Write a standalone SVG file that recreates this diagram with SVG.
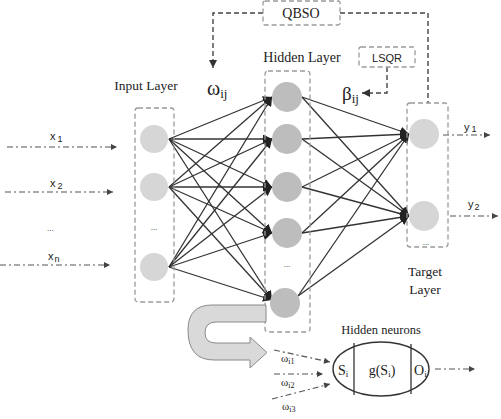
<svg xmlns="http://www.w3.org/2000/svg" width="501" height="419" viewBox="0 0 501 419">
<style>
.serif{font-family:"Liberation Serif","Times New Roman",serif;fill:#222}
.sans{font-family:"Liberation Sans",Arial,sans-serif;fill:#222}
.dbox{fill:none;stroke:#9a9a9a;stroke-width:1.3;stroke-dasharray:5,3}
.inode{fill:#d6d6d6}
.hnode{fill:#bdbdbd}
.conn{stroke:#333;stroke-width:1.3;fill:none;marker-end:url(#ah)}
.dd{stroke:#555;stroke-width:1.2;fill:none;stroke-dasharray:6,3,2,3;marker-end:url(#sa)}
.fb{stroke:#444;stroke-width:1.4;fill:none;stroke-dasharray:5,3;marker-end:url(#fa)}
</style>
<defs>
<marker id="ah" viewBox="0 0 10 10" refX="10" refY="5" markerWidth="9" markerHeight="9" markerUnits="userSpaceOnUse" orient="auto"><path d="M0,0 L10,5 L0,10 Z" fill="#222"/></marker>
<marker id="sa" viewBox="0 0 10 10" refX="10" refY="5" markerWidth="7" markerHeight="6" markerUnits="userSpaceOnUse" orient="auto"><path d="M0,0 L10,5 L0,10 Z" fill="#444"/></marker>
<marker id="fa" viewBox="0 0 10 10" refX="10" refY="5" markerWidth="8" markerHeight="8" markerUnits="userSpaceOnUse" orient="auto"><path d="M0,0 L10,5 L0,10 Z" fill="#333"/></marker>
</defs>

<g id="connectors">
<!-- input to hidden -->
<line class="conn" x1="169" y1="139" x2="272" y2="97"/>
<line class="conn" x1="169" y1="139" x2="272" y2="139"/>
<line class="conn" x1="169" y1="139" x2="272" y2="187"/>
<line class="conn" x1="169" y1="139" x2="272" y2="233"/>
<line class="conn" x1="169" y1="139" x2="272" y2="300"/>
<line class="conn" x1="169" y1="187" x2="272" y2="97"/>
<line class="conn" x1="169" y1="187" x2="272" y2="139"/>
<line class="conn" x1="169" y1="187" x2="272" y2="187"/>
<line class="conn" x1="169" y1="187" x2="272" y2="233"/>
<line class="conn" x1="169" y1="187" x2="272" y2="300"/>
<line class="conn" x1="169" y1="267" x2="272" y2="97"/>
<line class="conn" x1="169" y1="267" x2="272" y2="139"/>
<line class="conn" x1="169" y1="267" x2="272" y2="187"/>
<line class="conn" x1="169" y1="267" x2="272" y2="233"/>
<line class="conn" x1="169" y1="267" x2="272" y2="300"/>
<!-- hidden to target -->
<line class="conn" x1="302" y1="97" x2="409" y2="134"/>
<line class="conn" x1="302" y1="97" x2="409" y2="216"/>
<line class="conn" x1="302" y1="139" x2="409" y2="134"/>
<line class="conn" x1="302" y1="139" x2="409" y2="216"/>
<line class="conn" x1="302" y1="187" x2="409" y2="134"/>
<line class="conn" x1="302" y1="187" x2="409" y2="216"/>
<line class="conn" x1="302" y1="233" x2="409" y2="134"/>
<line class="conn" x1="302" y1="233" x2="409" y2="216"/>
<line class="conn" x1="298" y1="296" x2="409" y2="134"/>
<line class="conn" x1="298" y1="296" x2="409" y2="216"/>
<!-- inputs -->
<line class="dd" x1="7" y1="147" x2="117" y2="147"/>
<line class="dd" x1="5" y1="192" x2="113" y2="192"/>
<line class="dd" x1="0" y1="265" x2="110" y2="265"/>
<!-- outputs -->
<line class="dd" x1="443" y1="135" x2="490" y2="135"/>
<line class="dd" x1="450" y1="216" x2="498" y2="216"/>
<line class="dd" x1="435" y1="369" x2="475" y2="369"/>
<!-- neuron inputs -->
<line class="dd" x1="274" y1="350" x2="330" y2="362"/>
<line class="dd" x1="274" y1="374" x2="323" y2="374"/>
<line class="dd" x1="272" y1="399" x2="330" y2="384"/>
<!-- feedback -->
<polyline class="fb" points="263,13 213,13 213,68"/>
<polyline class="fb" points="340,13 428,13 428,103" style="marker-end:none"/>
<polyline class="fb" points="387,67 387,93 362,93"/>
</g>

<g id="qbso">
<rect class="dbox" x="263" y="1" width="77" height="24" rx="2"/>
<text class="serif" x="301" y="18" font-size="14" text-anchor="middle">QBSO</text>
</g>
<g id="lsqr">
<rect class="dbox" x="359" y="47" width="56" height="20" rx="2"/>
<text class="sans" x="387" y="62" font-size="11" text-anchor="middle">LSQR</text>
</g>

<g id="input-layer">
<rect class="dbox" x="135" y="108" width="39" height="194" rx="3"/>
<circle class="inode" cx="154" cy="139" r="14"/>
<circle class="inode" cx="154" cy="187" r="14"/>
<circle class="inode" cx="154" cy="267" r="14"/>
<text class="sans" x="154" y="230" font-size="8" text-anchor="middle">...</text>
<text class="serif" x="146" y="90" font-size="13.5" text-anchor="middle">Input Layer</text>
</g>

<g id="hidden-layer">
<rect class="dbox" x="265" y="71" width="45" height="261" rx="3"/>
<circle class="hnode" cx="287" cy="97" r="15"/>
<circle class="hnode" cx="287" cy="139" r="15"/>
<circle class="hnode" cx="287" cy="187" r="15"/>
<circle class="hnode" cx="287" cy="233" r="15"/>
<circle class="hnode" cx="285" cy="303" r="15"/>
<text class="sans" x="287" y="267" font-size="8" text-anchor="middle">...</text>
<text class="serif" x="302" y="62" font-size="14" text-anchor="middle">Hidden Layer</text>
</g>

<g id="target-layer">
<rect class="dbox" x="407" y="103" width="41" height="144" rx="3"/>
<circle class="inode" cx="424" cy="134" r="15"/>
<circle class="inode" cx="424" cy="216" r="15"/>
<text class="sans" x="426" y="245" font-size="8" text-anchor="middle">...</text>
<text class="serif" x="425" y="276" font-size="13.5" text-anchor="middle">Target</text>
<text class="serif" x="425" y="294" font-size="13.5" text-anchor="middle">Layer</text>
</g>

<g id="labels">
<text class="serif" x="207" y="95" font-size="20">ω<tspan font-size="13" dy="3">ij</tspan></text>
<text class="serif" x="342" y="100" font-size="19">β<tspan font-size="13" dy="3">ij</tspan></text>
<text class="sans" x="50" y="140" font-size="11">x<tspan font-size="9" dx="2" dy="2">1</tspan></text>
<text class="sans" x="50" y="187" font-size="11">x<tspan font-size="9" dx="2" dy="2">2</tspan></text>
<text class="sans" x="47" y="231" font-size="8">...</text>
<text class="sans" x="48" y="260" font-size="11">x<tspan font-size="9" dx="1" dy="2">n</tspan></text>
<text class="sans" x="464" y="131" font-size="11">y<tspan font-size="9" dx="2" dy="1">1</tspan></text>
<text class="sans" x="468" y="208" font-size="11">y<tspan font-size="9" dx="1" dy="2">2</tspan></text>
</g>

<g id="u-arrow">
<path d="M266,305 L212,305 Q188,305 188,330 Q188,360 214,360 L250,360 L250,368 L267,352.5 L250,337 L250,343 L216,343 Q205,343 205,333 Q205,322 216,322 L266,322 Z" fill="#d9d9d9" stroke="#8a8a8a" stroke-width="1"/>
</g>

<g id="hidden-neuron">
<text class="serif" x="381" y="334" font-size="12.5" text-anchor="middle">Hidden neurons</text>
<ellipse cx="381" cy="369" rx="48" ry="27" fill="#fff" stroke="#333" stroke-width="1.4"/>
<line x1="354" y1="343" x2="354" y2="395" stroke="#333" stroke-width="1.3"/>
<line x1="411" y1="344" x2="411" y2="394" stroke="#333" stroke-width="1.3"/>
<text class="serif" x="338" y="375" font-size="14">S<tspan font-size="9" dy="2">i</tspan></text>
<text class="serif" x="382" y="375" font-size="14" text-anchor="middle">g(S<tspan font-size="9" dy="2">i</tspan><tspan dy="-2">)</tspan></text>
<text class="serif" x="414" y="375" font-size="14">O<tspan font-size="9" dy="2">i</tspan></text>
<text class="serif" x="281" y="362" font-size="11">ω<tspan font-size="8" dy="2">i1</tspan></text>
<text class="serif" x="281" y="386" font-size="11">ω<tspan font-size="8" dy="2">i2</tspan></text>
<text class="serif" x="282" y="410" font-size="11">ω<tspan font-size="8" dy="2">i3</tspan></text>
</g>
</svg>
